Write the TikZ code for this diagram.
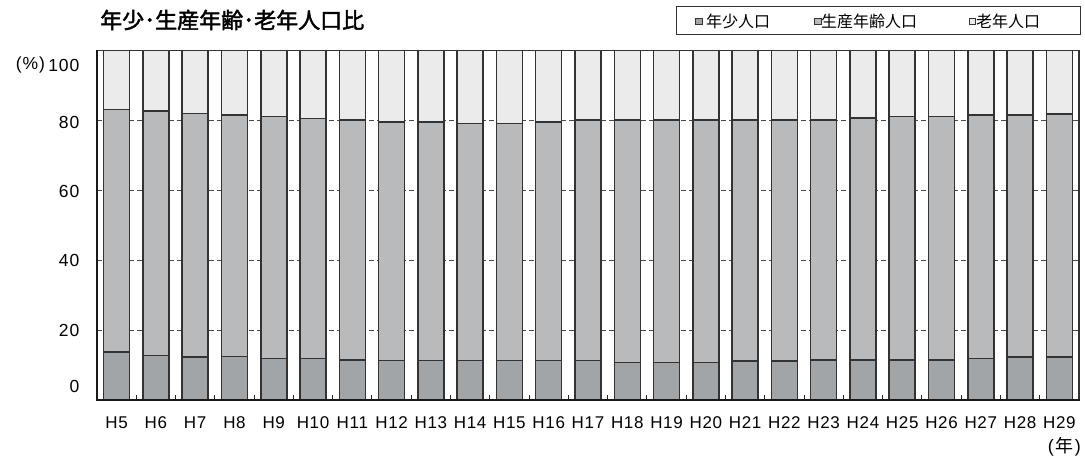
\documentclass[tikz,border=0pt]{standalone}
\usepackage{fontspec}
\setmainfont{Liberation Sans}
\newfontfamily\jp{Noto Sans CJK JP}
\newfontfamily\jpt{Noto Sans CJK JP}[FakeBold=2]
\newfontfamily\ylabfont{Liberation Sans}[LetterSpace=5]
\newfontfamily\xlabfont{Liberation Sans}[LetterSpace=4]
\definecolor{cyoung}{HTML}{A2A5A7}
\definecolor{cprod}{HTML}{B9BABC}
\definecolor{cold}{HTML}{EBEBEB}
\definecolor{barline}{HTML}{333333}
\definecolor{gridc}{HTML}{4A4A4A}
\begin{document}
\begin{tikzpicture}[x=1pt,y=1pt,
  barframe/.style={draw=barline,line width=1.5pt},
  gridline/.style={draw=gridc,line width=1pt,dash pattern=on 5pt off 3pt},
  axisline/.style={draw=black!90,line width=2.2pt,line cap=rect},
  frameline/.style={draw=barline,line width=1.3pt},
  tickline/.style={draw=black!85,line width=1pt},
  ylab/.style={anchor=east,inner sep=0,font=\ylabfont\fontsize{17.5}{17.5}\selectfont},
  xlab/.style={inner sep=0,font=\xlabfont\fontsize{17}{17}\selectfont},
  mk/.style={draw=barline,line width=0.8pt,minimum size=6.5pt,inner sep=0},
  legtext/.style={anchor=west,inner sep=0,font=\jp\fontsize{16}{16}\selectfont}]
\useasboundingbox (0,0) rectangle (1085,461);
\def\L{97}\def\R{1079}\def\B{61}\def\H{3.493}\def\W{39.28}
% gridlines
\foreach \v in {20,40,60,80}
  \draw[gridline] (\L,{\B+\v*\H}) -- (\R,{\B+\v*\H});
% bars
\foreach \yv/\tv [count=\i] in {13.8/83.1,12.8/82.8,12.3/82.0,12.4/81.6,11.9/81.2,11.9/80.6,11.5/80.2,11.3/79.6,11.3/79.6,11.3/79.2,11.3/79.2,11.3/79.6,11.3/80.2,10.8/80.2,10.8/80.2,10.8/80.2,11.2/80.2,11.2/80.2,11.5/80.2,11.5/80.7,11.5/81.1,11.5/81.1,11.9/81.6,12.3/81.6,12.3/81.9} {
  \pgfmathsetmacro\cx{\L+(\i-0.5)*\W}
  \fill[cyoung] ({\cx-13},\B) rectangle ({\cx+13},{\B+\yv*\H});
  \fill[cprod] ({\cx-13},{\B+\yv*\H}) rectangle ({\cx+13},{\B+\tv*\H});
  \fill[cold] ({\cx-13},{\B+\tv*\H}) rectangle ({\cx+13},{\B+100*\H});
  \draw[barframe] ({\cx-13},\B) rectangle ({\cx+13},{\B+100*\H});
  \draw[barframe] ({\cx-13},{\B+\yv*\H}) -- ({\cx+13},{\B+\yv*\H});
  \draw[barframe] ({\cx-13},{\B+\tv*\H}) -- ({\cx+13},{\B+\tv*\H});
  \node[xlab] (x\i) at (\cx,38) {H\the\numexpr\i+4\relax};
}
% frame
\draw[frameline] (\L,{\B+100*\H}) -- (\R,{\B+100*\H}) -- (\R,\B);
\foreach \k in {1,...,24}
  \draw[tickline] ({\L+\k*\W},\B) -- ++(0,5);
\draw[axisline] (\L,{\B+100*\H}) -- (\L,\B) -- (\R,\B);
% y labels
\node[ylab] (y100) at (79.5,396) {100};
\node[ylab] (pct) at ([xshift=-3pt]y100.west) {(\%)};
\node[ylab] (y80) at (79.5,339) {80};
\node[ylab] (y60) at (79.5,270) {60};
\node[ylab] (y40) at (79.5,201) {40};
\node[ylab] (y20) at (79.5,131) {20};
\node[ylab] (y0) at (79.5,75) {0};
% unit
\node[anchor=east,inner sep=0,font=\fontsize{18}{18}\selectfont] (unit) at (1081,14) {(\kern1.5pt{\jp 年}\kern1.5pt)};
% title
\node[anchor=west,inner sep=0,font=\jpt\fontsize{22}{22}\selectfont] (title) at (100,441) {年少･生産年齢･老年人口比};
% legend
\node[draw=barline,line width=1pt,minimum width=404pt,minimum height=28pt,inner sep=0] (legend) at (878,440) {};
\node[mk,fill=cyoung] (m1) at (699,439.5) {};
\node[legtext] (l1) at (706,439.5) {年少人口};
\node[mk,fill=cprod] (m2) at (818,439.5) {};
\node[legtext] (l2) at (821,439.5) {生産年齢人口};
\node[mk,fill=cold] (m3) at (972.5,439.5) {};
\node[legtext] (l3) at (976,439.5) {老年人口};
\end{tikzpicture}
\end{document}
